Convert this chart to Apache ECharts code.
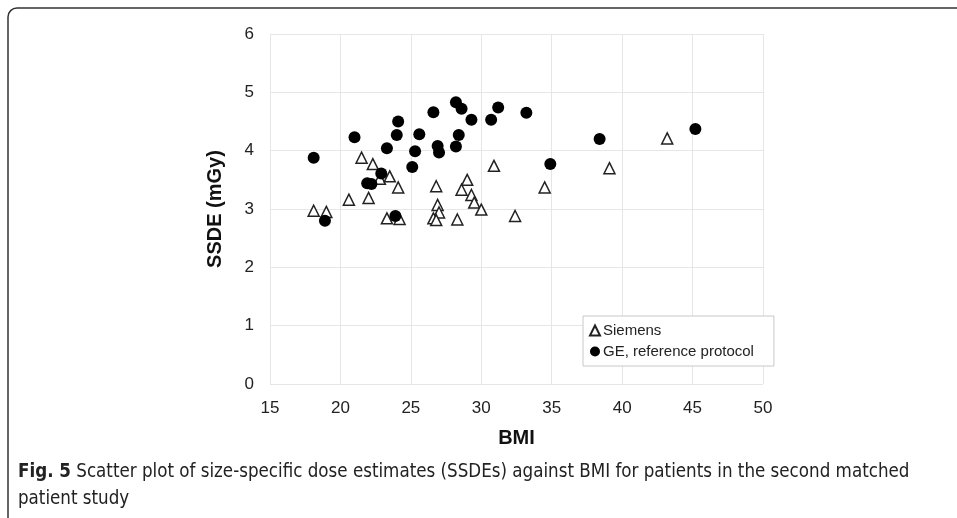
<!DOCTYPE html>
<html>
<head>
<meta charset="utf-8">
<script src="https://cdn.jsdelivr.net/npm/echarts@6/dist/echarts.min.js"></script>
<style>
  html, body { margin: 0; padding: 0; background: #fff; }
  #chart { width: 957px; height: 518px; }
</style>
</head>
<body>
<div id="chart"></div>
<script>
// values
const siemensBmi  = [18.1, 19.0, 20.6, 21.5, 22.3, 22.0, 22.8, 23.5, 24.1, 23.3, 24.2, 26.8, 26.9, 27.0, 26.6, 26.8, 28.3, 29.0, 28.6, 29.3, 29.5, 30.0, 30.9, 32.4, 34.5, 39.1, 43.2];
const siemensSsde = [2.97, 2.95, 3.16, 3.88, 3.77, 3.19, 3.52, 3.56, 3.37, 2.84, 2.83, 3.39, 3.07, 2.94, 2.84, 2.81, 2.82, 3.50, 3.33, 3.24, 3.11, 2.99, 3.74, 2.88, 3.37, 3.70, 4.21];
const geBmi  = [18.1, 18.9, 21.0, 21.9, 22.2, 22.9, 23.3, 23.9, 24.0, 24.1, 25.1, 25.3, 25.6, 26.6, 26.9, 27.0, 28.2, 28.2, 28.4, 28.6, 29.3, 30.7, 31.2, 33.2, 34.9, 38.4, 45.2];
const geSsde = [3.88, 2.80, 4.23, 3.44, 3.43, 3.61, 4.04, 2.88, 4.27, 4.50, 3.72, 3.99, 4.28, 4.66, 4.08, 3.97, 4.07, 4.83, 4.27, 4.72, 4.53, 4.53, 4.74, 4.65, 3.77, 4.20, 4.37];

const seriesNames = ['Siemens', 'GE, reference protocol'];
const xTitle = 'BMI';
const yTitle = 'SSDE (mGy)';
const caption = 'Scatter plot of size-specific dose estimates (SSDEs) against BMI for patients in the second matched\npatient study';

const zip = (xs, ys) => xs.map((x, i) => [x, ys[i]]);

const chart = echarts.init(document.getElementById('chart'));
const labelFont = { color: '#222', fontSize: 17, fontFamily: 'Liberation Sans, Arial, sans-serif' };
const titleFont = { color: '#111', fontSize: 20, fontWeight: 'bold', fontFamily: 'Liberation Sans, Arial, sans-serif' };

chart.setOption({
  animation: false,
  grid: { left: 270, right: 194, top: 34, bottom: 134, containLabel: false },
  xAxis: {
    type: 'value', min: 15, max: 50, interval: 5,
    name: xTitle, nameLocation: 'middle', nameGap: 44, nameTextStyle: titleFont,
    axisLine: { show: false }, axisTick: { show: false },
    axisLabel: Object.assign({ margin: 16 }, labelFont),
    splitLine: { show: true, lineStyle: { color: '#e6e6e6', width: 1 } }
  },
  yAxis: {
    type: 'value', min: 0, max: 6, interval: 1,
    name: yTitle, nameLocation: 'middle', nameGap: 45, nameTextStyle: titleFont,
    axisLine: { show: false }, axisTick: { show: false },
    axisLabel: Object.assign({ margin: 16 }, labelFont),
    splitLine: { show: true, lineStyle: { color: '#e6e6e6', width: 1 } }
  },
  legend: {
    data: seriesNames,
    orient: 'vertical',
    left: 583, top: 316,
    padding: [7, 20, 7, 6],
    itemGap: 6,
    itemWidth: 10, itemHeight: 10,
    borderColor: '#c8c8c8', borderWidth: 1,
    backgroundColor: '#fff',
    textStyle: { color: '#222', fontSize: 15, fontFamily: 'Liberation Sans, Arial, sans-serif', padding: [0, 0, 0, -2] }
  },
  series: [
    {
      name: seriesNames[0], type: 'scatter', symbol: 'triangle', symbolSize: 11,
      itemStyle: { color: '#fff', borderColor: '#222', borderWidth: 1.5, opacity: 1 },
      data: zip(siemensBmi, siemensSsde)
    },
    {
      name: seriesNames[1], type: 'scatter', symbol: 'circle', symbolSize: 12,
      itemStyle: { color: '#000', opacity: 1 },
      data: zip(geBmi, geSsde)
    }
  ],
  graphic: [
    {
      type: 'rect', silent: true,
      shape: { x: 8, y: 8, width: 1100, height: 700, r: [9, 0, 0, 0] },
      style: { fill: 'none', stroke: '#333', lineWidth: 1.5 }
    },
    {
      type: 'text', left: 18, top: 459, silent: true,
      style: {
        text: '{b|Fig. 5} ' + caption,
        fontSize: 18.6, lineHeight: 27, fill: '#222',
        fontFamily: 'DejaVu Sans Condensed, sans-serif',
        rich: { b: { fontWeight: 'bold', fontSize: 18.6, fill: '#222', fontFamily: 'DejaVu Sans Condensed, sans-serif' } }
      }
    }
  ]
});
</script>
</body>
</html>
